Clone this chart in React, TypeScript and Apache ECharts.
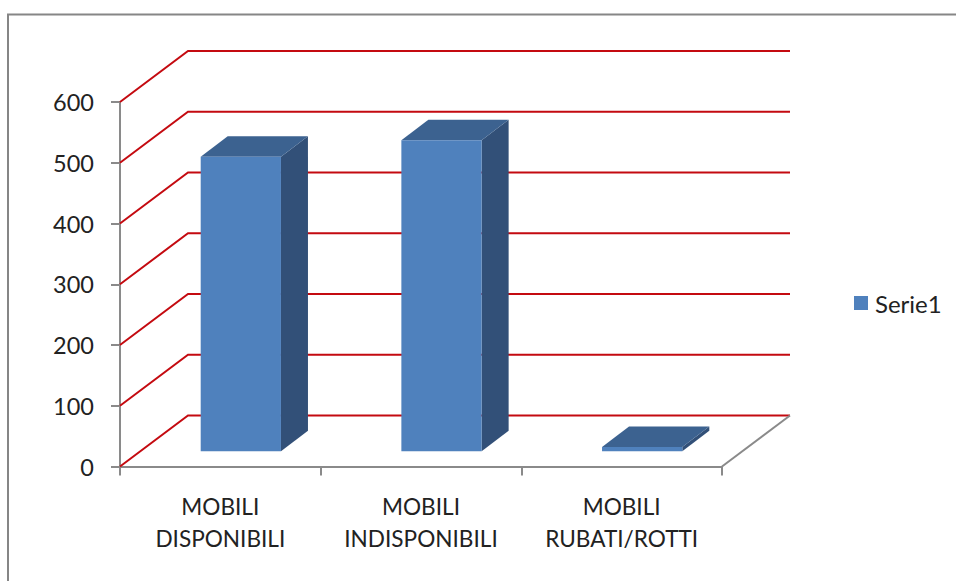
import React, { useEffect, useRef } from "react";
import * as echarts from "echarts";

const categories = ["MOBILI\nDISPONIBILI", "MOBILI\nINDISPONIBILI", "MOBILI\nRUBATI/ROTTI"];
const serieValues = [485, 512, 7];
const wallTicks = [0, 100, 200, 300, 400, 500, 600];
const serieName = "Serie1";

// Oblique projection used for the fake 3D box
const WALL_DX = 68;
const WALL_DY = -51;
const BAR_INSET_DX = 20.5;
const BAR_INSET_DY = -15.2;
const BAR_DEPTH_DX = 27;
const BAR_DEPTH_DY = -20.5;
const BAR_RATIO = 0.4;

const FONT = "Lato, 'Open Sans', sans-serif";
const TEXT = "#222222";
const GREY = "#8a8a8a";
const RED = "#c40a10";

export default function App() {
  const ref = useRef<HTMLDivElement>(null);

  useEffect(() => {
    const chart = echarts.init(ref.current!, undefined, { renderer: "svg" });
    chart.setOption({
      animation: false,
      backgroundColor: "#ffffff",
      grid: { left: 120, right: 234, top: 102, bottom: 114.5 },
      legend: {
        left: 854,
        top: 291,
        padding: 0,
        itemWidth: 14,
        itemHeight: 14,
        textStyle: { fontFamily: FONT, fontSize: 24, color: TEXT, padding: [0, 0, 0, 2] },
        data: [{ name: serieName, icon: "rect", itemStyle: { color: "#4f81bd" } }],
      },
      xAxis: {
        type: "category",
        data: categories,
        axisLine: { lineStyle: { color: GREY, width: 2 } },
        axisTick: { show: true, length: 9, lineStyle: { color: GREY, width: 2 } },
        axisLabel: { fontFamily: FONT, fontSize: 22.6, color: TEXT, lineHeight: 32, margin: 24, interval: 0 },
      },
      yAxis: {
        type: "value",
        min: 0,
        max: 600,
        interval: 100,
        splitLine: { show: false },
        axisLine: { show: true, lineStyle: { color: GREY, width: 2 } },
        axisTick: { show: true, length: 9, lineStyle: { color: GREY, width: 2 } },
        axisLabel: { fontFamily: FONT, fontSize: 23.5, color: TEXT, margin: 26 },
      },
      series: [
        {
          // Back wall lines and the floor outline
          type: "custom",
          silent: true,
          z: 1,
          data: wallTicks.map((v) => [0, v]),
          encode: { x: 0, y: 1 },
          renderItem: (_params: any, api: any) => {
            const v = api.value(1);
            const band = api.size([1, 0])[0];
            const [cx, y] = api.coord([0, v]);
            const left = cx - band / 2;
            const right = api.coord([categories.length - 1, v])[0] + band / 2;
            const children: any[] = [
              {
                type: "polyline",
                shape: { points: [[left, y], [left + WALL_DX, y + WALL_DY], [right + WALL_DX, y + WALL_DY]] },
                style: { fill: "none", stroke: RED, lineWidth: 2 },
              },
            ];
            if (v === 0) {
              children.push({
                type: "line",
                shape: { x1: right, y1: y, x2: right + WALL_DX, y2: y + WALL_DY },
                style: { stroke: GREY, lineWidth: 2 },
              });
            }
            return { type: "group", children };
          },
        },
        {
          name: serieName,
          type: "custom",
          z: 2,
          data: serieValues.map((v, i) => [i, v]),
          encode: { x: 0, y: 1 },
          renderItem: (_params: any, api: any) => {
            const i = api.value(0);
            const v = api.value(1);
            const band = api.size([1, 0])[0];
            const [cx, topY] = api.coord([i, v]);
            const baseY = api.coord([i, 0])[1];
            const w = band * BAR_RATIO;
            const x0 = cx + BAR_INSET_DX - w / 2;
            const x1 = x0 + w;
            const y0 = topY + BAR_INSET_DY;
            const y1 = baseY + BAR_INSET_DY;
            return {
              type: "group",
              children: [
                {
                  type: "polygon",
                  shape: { points: [[x1, y0], [x1 + BAR_DEPTH_DX, y0 + BAR_DEPTH_DY], [x1 + BAR_DEPTH_DX, y1 + BAR_DEPTH_DY], [x1, y1]] },
                  style: { fill: "#325078" },
                },
                {
                  type: "polygon",
                  shape: { points: [[x0, y0], [x0 + BAR_DEPTH_DX, y0 + BAR_DEPTH_DY], [x1 + BAR_DEPTH_DX, y0 + BAR_DEPTH_DY], [x1, y0]] },
                  style: { fill: "#3c6290" },
                },
                {
                  type: "rect",
                  shape: { x: x0, y: y0, width: w, height: y1 - y0 },
                  style: { fill: "#4f81bd" },
                },
              ],
            };
          },
        },
      ],
      graphic: [
        {
          // Chart area frame: only its top and left edges fall inside the page
          type: "polyline",
          silent: true,
          shape: { points: [[8, 581], [8, 14.5], [956, 14.5]] },
          style: { fill: "none", stroke: "#868686", lineWidth: 2 },
        },
      ],
    });
    return () => chart.dispose();
  }, []);

  return <div ref={ref} style={{ position: "absolute", left: 0, top: 0, width: 956, height: 581 }} />;
}
